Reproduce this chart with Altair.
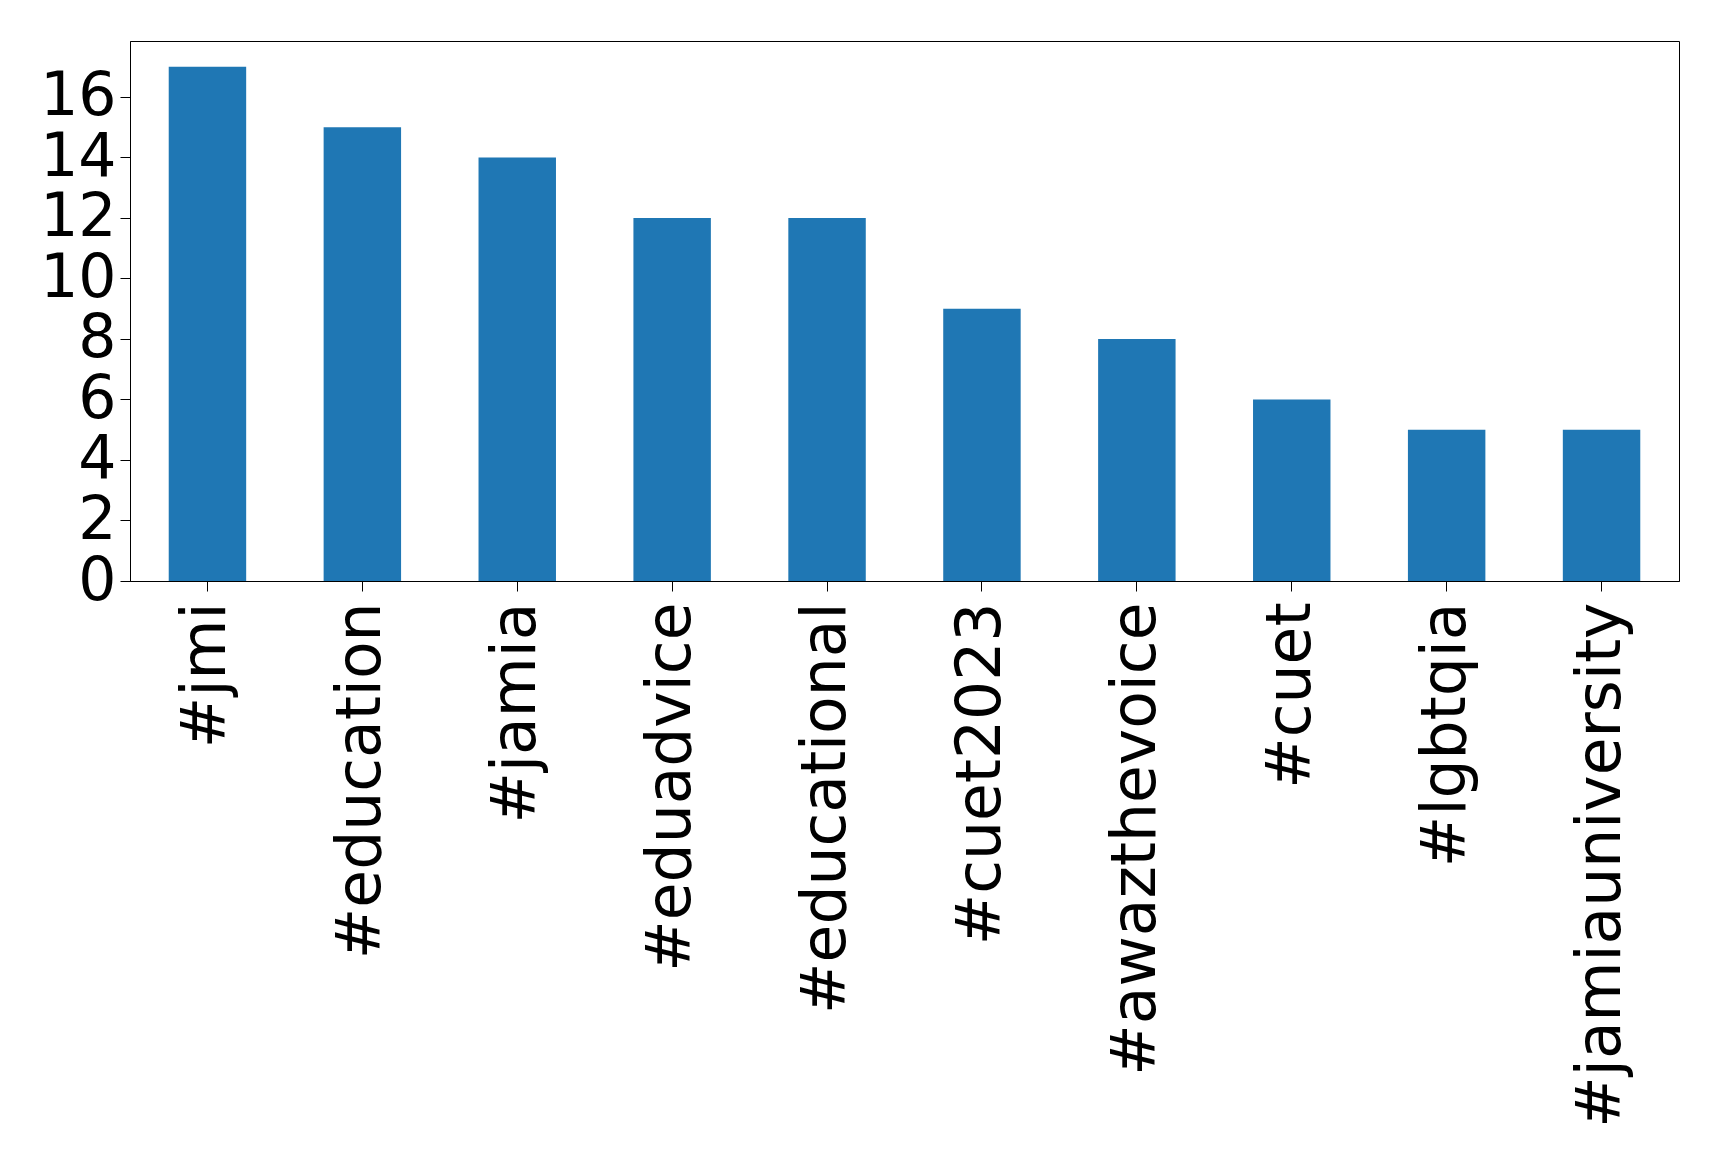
import altair as alt
import pandas as pd

tags = ["#jmi", "#education", "#jamia", "#eduadvice", "#educational",
        "#cuet2023", "#awazthevoice", "#cuet", "#lgbtqia", "#jamiauniversity"]
counts = [17, 15, 14, 12, 12, 9, 8, 6, 5, 5]
y_ticks = [0, 2, 4, 6, 8, 10, 12, 14, 16]

df = pd.DataFrame({"tag": tags, "count": counts})

FONT = "DejaVu Sans"

chart = alt.Chart(df).mark_bar(color="#1f77b4").encode(
    x=alt.X("tag:N", sort=tags, title=None,
            scale=alt.Scale(paddingInner=0.5, paddingOuter=0.25),
            axis=alt.Axis(labelAngle=-90, labelFontSize=61.5, labelFont=FONT,
                          labelColor="black", tickColor="black", tickSize=10,
                          tickWidth=1, domainColor="black", labelPadding=11,
                          labelLimit=0, labelOverlap=False)),
    y=alt.Y("count:Q", title=None,
            scale=alt.Scale(domain=[0, 17.85], nice=False, zero=True),
            axis=alt.Axis(values=y_ticks, labelFontSize=60, labelFont=FONT,
                          labelColor="black", tickColor="black", tickSize=10,
                          tickWidth=1, domainColor="black", grid=False,
                          labelPadding=4, labelOverlap=False, labelFlush=False)),
).properties(
    width=1549,
    height=540,
    autosize=alt.AutoSizeParams(type="none"),
    padding={"left": 122, "top": 33, "right": 32, "bottom": 570},
).configure(
    background="white",
    view=alt.ViewConfig(stroke="black", strokeWidth=1),
)

chart.save("out.html", embed_options={"renderer": "svg", "actions": False})
